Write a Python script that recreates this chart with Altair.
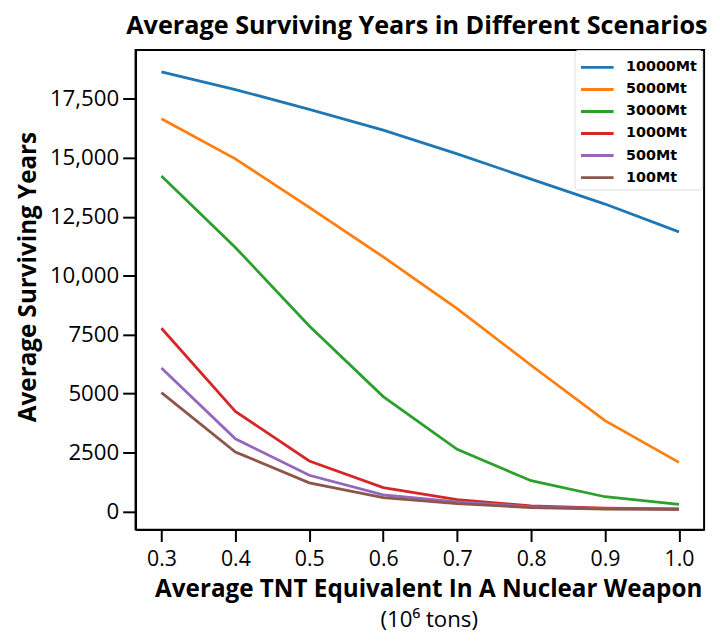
import altair as alt
import pandas as pd

x_vals = [0.3, 0.4, 0.5, 0.6, 0.7, 0.8, 0.9, 1.0]
series_names = ["10000Mt", "5000Mt", "3000Mt", "1000Mt", "500Mt", "100Mt"]
s10000 = [18650, 17900, 17060, 16180, 15170, 14100, 13040, 11860]
s5000 = [16660, 14960, 12900, 10800, 8600, 6200, 3850, 2080]
s3000 = [14230, 11200, 7870, 4870, 2630, 1300, 620, 300]
s1000 = [7770, 4240, 2140, 1010, 500, 230, 140, 100]
s500 = [6080, 3080, 1530, 700, 400, 190, 120, 90]
s100 = [5040, 2520, 1210, 580, 330, 160, 100, 80]
colors = ["#1f77b4", "#ff7f0e", "#2ca02c", "#d62728", "#9467bd", "#8c564b"]
y_ticks = [0, 2500, 5000, 7500, 10000, 12500, 15000, 17500]

series = [s10000, s5000, s3000, s1000, s500, s100]
rows = []
for name, vals in zip(series_names, series):
    for xv, yv in zip(x_vals, vals):
        rows.append({"tnt": xv, "years": yv, "scenario": name})
df = pd.DataFrame(rows)

FONT = "Open Sans"

lines = alt.Chart(df).mark_line(strokeWidth=2.8).encode(
    x=alt.X("tnt:Q",
            scale=alt.Scale(domain=[0.265, 1.034], nice=False, zero=False),
            axis=alt.Axis(values=x_vals, format=".1f",
                          title="Average TNT Equivalent In A Nuclear Weapon",
                          titleFont=FONT, titleFontSize=24.5, titleFontWeight="bold",
                          titleColor="black", titleX=296, titlePadding=8,
                          labelFont=FONT, labelFontSize=21.5, labelColor="black",
                          labelPadding=7, tickSize=12, tickWidth=2, tickColor="black",
                          domainColor="black", domainWidth=2, grid=False)),
    y=alt.Y("years:Q",
            scale=alt.Scale(domain=[-775, 19575], nice=False, zero=False),
            axis=alt.Axis(values=y_ticks,
                          labelExpr="datum.value >= 10000 ? format(datum.value, ',') : format(datum.value, 'd')",
                          title="Average Surviving Years",
                          titleFont=FONT, titleFontSize=24.5, titleFontWeight="bold",
                          titleColor="black", titlePadding=9, titleY=229,
                          labelFont=FONT, labelFontSize=22.5, labelColor="black",
                          labelPadding=4, tickSize=13, tickWidth=2, tickColor="black",
                          domainColor="black", domainWidth=2, grid=False)),
    color=alt.Color("scenario:N",
                    scale=alt.Scale(domain=series_names, range=colors),
                    sort=series_names,
                    legend=alt.Legend(title=None, orient="none", legendX=444, legendY=0,
                                      symbolType="M-1,0H2", symbolSize=484,
                                      symbolStrokeWidth=3, labelFont="DejaVu Sans",
                                      labelFontWeight="bold", labelFontSize=14.5,
                                      labelColor="black", labelOffset=22,
                                      rowPadding=3.3, padding=5, strokeColor="#dddddd",
                                      fillColor="white", cornerRadius=3)),
)

unit_df = pd.DataFrame({"t": ["(10\u2076 tons)"]})
unit_text = alt.Chart(unit_df).mark_text(font=FONT, fontSize=22.5, color="black").encode(
    text="t:N", x=alt.value(297), y=alt.value(576))

chart = alt.layer(lines, unit_text).properties(
    width=575, height=485,
    title=alt.TitleParams("Average Surviving Years in Different Scenarios",
                          font=FONT, fontSize=25.5, fontWeight="bold", color="black",
                          anchor="middle", offset=10, dx=-3),
    autosize=alt.AutoSizeParams(type="none"),
    padding={"left": 129, "top": 39, "right": 8, "bottom": 101},
).configure_view(stroke="black", strokeWidth=2)

chart.save("out.html", embed_options={"renderer": "svg", "actions": False})
